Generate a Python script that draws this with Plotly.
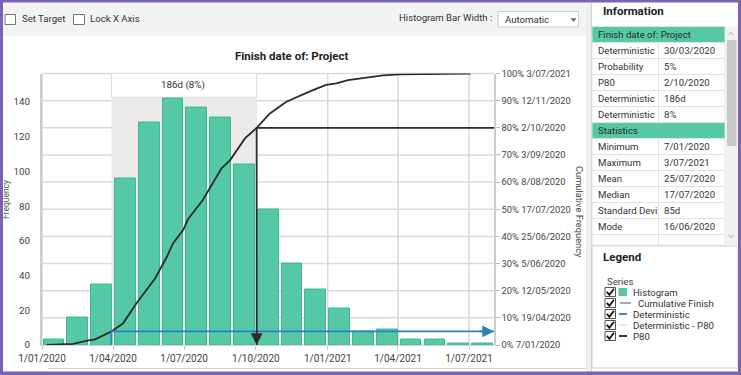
import plotly.graph_objects as go
from datetime import datetime, timedelta

W, H = 741, 375
FONT = "Roboto"

# ---------------- data ----------------
bin_start = "2020-01-01"
bin_width_days = 30.5
hist_counts = [3, 16, 35, 96, 128, 142, 137, 131, 104, 78, 47, 32, 21, 8, 9, 3, 3, 1, 1]

cum_dates = ["2020-01-07", "2020-02-10", "2020-03-02", "2020-03-09", "2020-03-30",
             "2020-04-14", "2020-05-01", "2020-05-25", "2020-06-09", "2020-06-17",
             "2020-06-30", "2020-07-06", "2020-07-25", "2020-07-30", "2020-08-09",
             "2020-08-18", "2020-08-29", "2020-09-17", "2020-10-02", "2020-10-19",
             "2020-11-09", "2020-11-26", "2020-12-13", "2020-12-30", "2021-01-12",
             "2021-01-27", "2021-02-20", "2021-03-13", "2021-04-03", "2021-05-16",
             "2021-07-03"]
cum_pct = [0, 0.4, 1.8, 2.1, 5.0, 8.0, 15.4, 24.6, 32.5, 37.5, 42.4, 46.3, 53.4, 55.9,
           60.8, 65.1, 68.1, 76.1, 80.0, 85.3, 89.6, 91.9, 93.9, 95.8, 96.4, 97.6, 98.6,
           99.3, 99.7, 99.95, 100]

x_tick_dates = ["2020-01-01", "2020-04-01", "2020-07-01", "2020-10-01",
                "2021-01-01", "2021-04-01", "2021-07-01"]
x_tick_labels = ["1/01/2020", "1/04/2020", "1/07/2020", "1/10/2020",
                 "1/01/2021", "1/04/2021", "1/07/2021"]
x_range = ["2020-01-01", "2021-08-02"]

freq_ticks = [0, 20, 40, 60, 80, 100, 120, 140]
freq_max = 156.4
pct_ticks = [0, 10, 20, 30, 40, 50, 60, 70, 80, 90, 100]
pct_tick_dates = ["7/01/2020", "19/04/2020", "12/05/2020", "5/06/2020", "25/06/2020",
                  "17/07/2020", "8/08/2020", "3/09/2020", "2/10/2020", "12/11/2020",
                  "3/07/2021"]

deterministic_date = "2020-03-30"
deterministic_pct = 5
p80_date = "2020-10-02"
p80_pct = 80
span_label = "186d (8%)"
span_label_date = "2020-06-30"

info_rows = [
    ("Finish date of: Project", None),
    ("Deterministic", "30/03/2020"),
    ("Probability", "5%"),
    ("P80", "2/10/2020"),
    ("Deterministic", "186d"),
    ("Deterministic", "8%"),
    ("Statistics", None),
    ("Minimum", "7/01/2020"),
    ("Maximum", "3/07/2021"),
    ("Mean", "25/07/2020"),
    ("Median", "17/07/2020"),
    ("Standard Devi", "85d"),
    ("Mode", "16/06/2020"),
]
legend_items = ["Histogram", "Cumulative Finish", "Deterministic", "Deterministic - P80", "P80"]

# ---------------- helpers ----------------
def PX(x):
    return x / W

def PY(y):
    return 1 - y / H

shapes = []
annots = []

def rect(x0, y0, x1, y1, fill=None, line=None, lw=1, layer="below"):
    shapes.append(dict(type="rect", xref="paper", yref="paper",
                       x0=PX(x0), x1=PX(x1), y0=PY(y1), y1=PY(y0),
                       fillcolor=fill if fill else "rgba(0,0,0,0)",
                       line=dict(color=line if line else "rgba(0,0,0,0)", width=lw if line else 0),
                       layer=layer))

def hline(x0, x1, y, color, lw=1, layer="below"):
    shapes.append(dict(type="line", xref="paper", yref="paper",
                       x0=PX(x0), x1=PX(x1), y0=PY(y), y1=PY(y),
                       line=dict(color=color, width=lw), layer=layer))

def vline(x, y0, y1, color, lw=1, layer="below"):
    shapes.append(dict(type="line", xref="paper", yref="paper",
                       x0=PX(x), x1=PX(x), y0=PY(y0), y1=PY(y1),
                       line=dict(color=color, width=lw), layer=layer))

def path(pts, color, lw=1, fill=None, closed=False):
    s = "M " + " L ".join(f"{PX(a):.5f},{PY(b):.5f}" for a, b in pts)
    if closed:
        s += " Z"
    shapes.append(dict(type="path", xref="paper", yref="paper", path=s,
                       line=dict(color=color, width=lw),
                       fillcolor=fill if fill else "rgba(0,0,0,0)", layer="above"))

def txt(x, y, s, size=9.6, color="#333333", bold=False, anchor="left", angle=0, family=FONT):
    annots.append(dict(xref="paper", yref="paper", x=PX(x), y=PY(y), text=s,
                       showarrow=False, xanchor=anchor, yanchor="middle",
                       textangle=angle,
                       font=dict(family=family, size=size, color=color,
                                 weight="bold" if bold else "normal")))

# ---------------- traces ----------------
start = datetime.fromisoformat(bin_start)
bin_centers = [(start + timedelta(days=(i + 0.5) * bin_width_days)).isoformat()
               for i in range(len(hist_counts))]
bar_w_ms = bin_width_days * 0.87 * 86400000

fig = go.Figure()
fig.add_trace(go.Bar(x=bin_centers, y=hist_counts, width=[bar_w_ms] * len(hist_counts),
                     marker=dict(color="#55c8a6", line=dict(color="#3fb892", width=1)),
                     hoverinfo="skip", yaxis="y"))
fig.add_trace(go.Scatter(x=cum_dates, y=cum_pct, yaxis="y2", mode="lines",
                         line=dict(color="#2a2a2a", width=1.8), hoverinfo="skip"))
fig.add_trace(go.Scatter(x=[deterministic_date, deterministic_date, x_range[1]],
                         y=[0, deterministic_pct, deterministic_pct], yaxis="y2",
                         mode="lines", line=dict(color="#2e7fbd", width=1.8), hoverinfo="skip"))
fig.add_trace(go.Scatter(x=[x_range[1], p80_date, p80_date],
                         y=[p80_pct, p80_pct, 0], yaxis="y2",
                         mode="lines", line=dict(color="#2d2d2d", width=1.8), hoverinfo="skip"))

# arrowheads
annots.append(dict(xref="x", yref="y2", x=x_range[1], y=deterministic_pct, ax=-16, ay=0,
                   text="", showarrow=True, arrowhead=2, arrowsize=1.3, arrowwidth=1.8,
                   arrowcolor="#2e7fbd"))
annots.append(dict(xref="x", yref="y2", x=p80_date, y=0, ax=0, ay=-15,
                   text="", showarrow=True, arrowhead=2, arrowsize=1.3, arrowwidth=1.8,
                   arrowcolor="#2d2d2d"))

# gridlines as shapes (drawn below the traces, in the main subplot)
for d in x_tick_dates:
    shapes.append(dict(type="line", xref="x", yref="y domain", x0=d, x1=d, y0=0, y1=1,
                       line=dict(color="#dadada", width=1.5), layer="below"))
for p in pct_ticks:
    shapes.append(dict(type="line", xref="x domain", yref="y domain", x0=0, x1=1,
                       y0=p / 100, y1=p / 100,
                       line=dict(color="#dadada", width=1.5), layer="below"))

# Deterministic - P80 span
shapes.append(dict(type="rect", xref="x", yref="y domain", x0=deterministic_date, x1=p80_date,
                   y0=0, y1=0.912, fillcolor="#ebeae9", line=dict(width=0), layer="below"))
shapes.append(dict(type="rect", xref="x", yref="y domain", x0=deterministic_date, x1=p80_date,
                   y0=0.912, y1=1.0, fillcolor="#ffffff", line=dict(color="#dedede", width=1),
                   layer="below"))
annots.append(dict(xref="x", yref="paper", x=span_label_date, y=PY(85), text=span_label,
                   showarrow=False, xanchor="center", yanchor="middle",
                   font=dict(family=FONT, size=9.8, color="#333333")))

# ---------------- UI chrome ----------------
# toolbar
rect(3, 3, 588, 36, fill="#f3f3f3")
rect(5, 14.5, 15.5, 24.5, fill="#ffffff", line="#777777", lw=1)
txt(20, 18.5, "Set Target", size=9.6)
rect(73.5, 14.5, 84.5, 24.5, fill="#ffffff", line="#777777", lw=1)
txt(88, 18.5, "Lock X Axis", size=9.6)
txt(493.5, 17.5, "Histogram Bar Width :", size=9.6, anchor="right")
rect(498, 11.5, 578.5, 27, fill="#ffffff", line="#cccccc", lw=1)
txt(503, 19.5, "Automatic", size=9.6)
path([(571, 18.5), (576, 18.5), (573.5, 21.5)], "#666666", lw=0.5, fill="#666666", closed=True)

# chart title and axis titles
txt(291.5, 56, "Finish date of: Project", size=11.5, bold=True, anchor="center", color="#222222")
txt(6, 200, "Frequency", size=8.5, anchor="center", angle=-90, color="#555555")
txt(580, 212, "Cumulative Frequency", size=9.3, anchor="center", angle=90, color="#444444")

# bottom strip
hline(48, 589, 368.5, "#d4d4d4", lw=1)

# right panel divider
rect(586, 3, 591, 372, fill="#eeeeee")
vline(591.5, 3, 372, "#cfcfcf", lw=1)

# Information panel
txt(600.5, 11, "Information", size=11.5, bold=True, color="#222222")
row_top = 26.5
row_h = 16
col_split = 658.5
tbl_left, tbl_right = 592, 725
for i, (k, v) in enumerate(info_rows):
    y0 = row_top + i * row_h
    y1 = y0 + row_h
    yc = (y0 + y1) / 2
    if v is None:
        rect(tbl_left, y0, tbl_right, y1, fill="#55c8a6", line="#e2e2e2", lw=1)
        txt(596, yc, k, size=9.6, color="#2a2a2a")
    else:
        rect(tbl_left, y0, col_split, y1, fill="#ffffff", line="#e2e2e2", lw=1)
        rect(col_split, y0, tbl_right, y1, fill="#ffffff", line="#e2e2e2", lw=1)
        txt(596, yc, k, size=9.6, color="#333333")
        txt(662, yc, v, size=9.6, color="#333333")
# partial (cut) next row
rect(tbl_left, row_top + len(info_rows) * row_h, col_split, 245, fill="#ffffff", line="#e2e2e2")
rect(col_split, row_top + len(info_rows) * row_h, tbl_right, 245, fill="#ffffff", line="#e2e2e2")
# scrollbar
rect(725, 26.5, 738, 245, fill="#f1f1f1")
rect(727, 40, 736.5, 146, fill="#c9c9c9")
path([(728.5, 35), (731, 32.5), (733.5, 35)], "#9a9a9a", lw=1)
path([(728.5, 235), (731, 237.5), (733.5, 235)], "#9a9a9a", lw=1)

# Legend panel
rect(592, 246, 738, 368, fill="#ffffff", line="#d0d0d0", lw=1)
txt(600.5, 257, "Legend", size=11.5, bold=True, color="#222222")
txt(605, 281.5, "Series", size=9.6, color="#444444")
legend_rows_y = [292, 303, 314, 325, 336]
legend_icon = ["sq", "line", "line", "line", "line"]
legend_col = ["#55c8a6", "#555555", "#2e7fbd", "#e4e4e4", "#222222"]
legend_text_x = [630.5, 636, 630.5, 630.5, 630.5]
for name, yc, ic, col, tx in zip(legend_items, legend_rows_y, legend_icon, legend_col, legend_text_x):
    rect(605, yc - 4.5, 615.5, yc + 4.5, fill="#ffffff", line="#555555", lw=1)
    path([(606.8, yc - 0.2), (609.4, yc + 2.8), (614, yc - 3.2)], "#111111", lw=1.8)
    if ic == "sq":
        rect(619, yc - 3.5, 626.5, yc + 3.5, fill=col, line="#3fb892", lw=0.8)
    elif name == "Cumulative Finish":
        hline(620, 631, yc, col, lw=1)
    else:
        hline(619, 627, yc, col, lw=1.8)
    txt(tx, yc, name, size=9.6, color="#333333")

# purple frame
frame = "#7b62b4"
rect(0, 0, 741, 2.5, fill=frame, layer="above")
rect(0, 0, 3, 375, fill=frame, layer="above")
rect(738, 0, 741, 375, fill=frame, layer="above")
rect(0, 371.5, 741, 375, fill=frame, layer="above")

# ---------------- layout ----------------
fig.update_layout(
    width=W, height=H,
    margin=dict(l=0, r=0, t=0, b=0, autoexpand=False),
    paper_bgcolor="#ffffff", plot_bgcolor="rgba(0,0,0,0)",
    showlegend=False,
    bargap=0,
    shapes=shapes,
    annotations=annots,
    xaxis=dict(
        type="date", domain=[PX(42), PX(494)], range=x_range,
        tickmode="array", tickvals=x_tick_dates, ticktext=x_tick_labels,
        showgrid=False,
        ticks="outside", ticklen=4, tickcolor="#cccccc",
        showline=True, linecolor="#d6d6d6", linewidth=1,
        tickfont=dict(family=FONT, size=10, color="#444444"),
        fixedrange=True, automargin=False,
    ),
    yaxis=dict(
        domain=[PY(345), PY(73.5)], range=[0, freq_max],
        tickmode="array", tickvals=freq_ticks,
        showgrid=False, zeroline=False,
        showline=True, linecolor="#cccccc", linewidth=2,
        ticks="", ticklabelstandoff=8,
        tickfont=dict(family=FONT, size=9.8, color="#444444"),
        fixedrange=True, automargin=False,
    ),
    yaxis2=dict(
        overlaying="y", side="right", range=[0, 100],
        tickmode="array", tickvals=pct_ticks,
        ticktext=[f"{p}% {d}" for p, d in zip(pct_ticks, pct_tick_dates)],
        showgrid=False, zeroline=False,
        showline=True, linecolor="#cccccc", linewidth=1.5,
        ticks="outside", ticklen=4, tickcolor="#bbbbbb",
        tickfont=dict(family=FONT, size=9.3, color="#444444"),
        fixedrange=True, automargin=False,
    ),
)

fig.write_html("out.html",
               config={"displayModeBar": False},
               post_script="document.body.style.margin='0';document.body.style.padding='0';")
